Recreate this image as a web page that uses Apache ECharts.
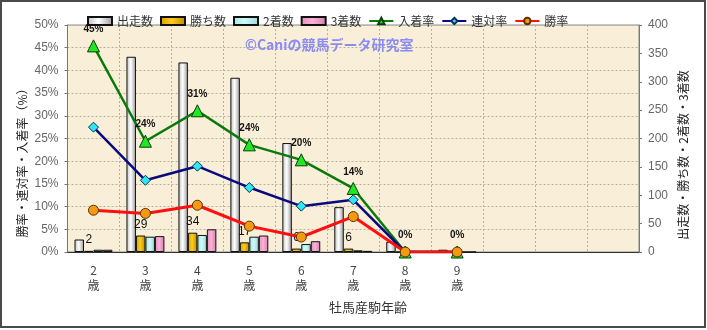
<!DOCTYPE html>
<html>
<head>
<meta charset="utf-8">
<script src="https://cdn.jsdelivr.net/npm/echarts@6/dist/echarts.min.js"></script>
<style>
  html, body { margin: 0; padding: 0; background: #fff; }
  #main { width: 707px; height: 330px; }
</style>
</head>
<body>
<div id="main"></div>
<script>
// Age categories (three trailing empty slots keep the axis width)
const categories = ['2\n歳', '3\n歳', '4\n歳', '5\n歳', '6\n歳', '7\n歳', '8\n歳', '9\n歳', '', '', ''];

// Counts (right axis)
const starts  = [22, 344, 334, 307, 192, 79, 18, 4];
const wins    = [2, 29, 34, 17, 6, 6, 0, 0];
const seconds = [4, 27, 30, 27, 14, 3, 0, 0];
const thirds  = [4, 28, 40, 29, 19, 2, 0, 0];

// Rates in % (left axis)
const placeRate    = [45.4, 24.4, 31.1, 23.6, 20.3, 14.0, 0, 0];
const quinellaRate = [27.5, 15.8, 18.9, 14.2, 10.1, 11.5, 0, 0];
const winRate      = [9.2, 8.5, 10.3, 5.7, 3.3, 7.8, 0, 0];

// Axis ticks
const rateTicks  = { min: 0, max: 50, interval: 5 };
const countTicks = { min: 0, max: 400, interval: 50 };

const FONT = '"Liberation Sans", "Noto Sans CJK JP", sans-serif';
const CJK = '"Noto Sans CJK JP", sans-serif';

function hGrad(stops) {
  return new echarts.graphic.LinearGradient(0, 0, 1, 0,
    stops.map(s => ({ offset: s[0], color: s[1] })));
}

const barBase = {
  type: 'bar',
  yAxisIndex: 1,
  barGap: '0%',
  barCategoryGap: '27%',
  z: 2
};

const chart = echarts.init(document.getElementById('main'), null, { renderer: 'canvas' });

chart.setOption({
  animation: false,
  backgroundColor: '#ffffff',
  textStyle: { fontFamily: FONT },
  grid: {
    left: 67.5, right: 68, top: 25, bottom: 78,
    show: true,
    backgroundColor: '#f9efd9',
    borderColor: '#8a8a8a',
    borderWidth: 1
  },
  legend: {
    left: 82, top: 10,
    itemWidth: 24, itemHeight: 8, itemGap: 7,
    textStyle: { fontFamily: CJK, fontSize: 12, color: '#333' },
    data: [
      { name: '出走数', icon: 'rect' },
      { name: '勝ち数', icon: 'rect' },
      { name: '2着数', icon: 'rect' },
      { name: '3着数', icon: 'rect' },
      '入着率', '連対率', '勝率'
    ]
  },
  xAxis: {
    type: 'category',
    data: categories,
    axisLine: { lineStyle: { color: '#333', width: 1 } },
    axisTick: { show: false },
    axisLabel: {
      interval: 0, margin: 11, color: '#444',
      fontFamily: CJK, fontSize: 12, lineHeight: 15
    },
    splitLine: { show: true, interval: 0, lineStyle: { color: '#b8b0a0', type: [2, 2] } }
  },
  yAxis: [
    {
      type: 'value',
      min: rateTicks.min, max: rateTicks.max, interval: rateTicks.interval,
      axisLine: { show: true, lineStyle: { color: '#777' } },
      axisTick: { show: true, length: 3, lineStyle: { color: '#777' } },
      axisLabel: { formatter: '{value}%', color: '#666', fontSize: 12, margin: 9 },
      splitLine: { show: true, lineStyle: { color: '#b8b0a0', type: [2, 2] } }
    },
    {
      type: 'value',
      min: countTicks.min, max: countTicks.max, interval: countTicks.interval,
      axisLine: { show: true, lineStyle: { color: '#777' } },
      axisTick: { show: true, length: 3, lineStyle: { color: '#777' } },
      axisLabel: { color: '#666', fontSize: 12, margin: 9 },
      splitLine: { show: false }
    }
  ],
  series: [
    Object.assign({}, barBase, {
      name: '出走数', data: starts,
      itemStyle: {
        color: hGrad([[0, '#bdbdbd'], [0.45, '#ffffff'], [1, '#9a9a9a']]),
        borderColor: '#111', borderWidth: 1
      }
    }),
    Object.assign({}, barBase, {
      name: '勝ち数', data: wins,
      itemStyle: {
        color: hGrad([[0, '#d59e00'], [0.45, '#ffcc1a'], [1, '#b98a00']]),
        borderColor: '#111', borderWidth: 1
      },
      label: {
        show: true, position: 'top', distance: 5,
        color: '#111', fontSize: 12, fontFamily: FONT,
        formatter: p => (p.value > 0 ? String(p.value) : '')
      }
    }),
    Object.assign({}, barBase, {
      name: '2着数', data: seconds,
      itemStyle: {
        color: hGrad([[0, '#a6e8ea'], [0.45, '#cff8f8'], [1, '#98dadc']]),
        borderColor: '#111', borderWidth: 1
      }
    }),
    Object.assign({}, barBase, {
      name: '3着数', data: thirds,
      itemStyle: {
        color: hGrad([[0, '#e68cbc'], [0.45, '#f8b4d6'], [1, '#d87cae']]),
        borderColor: '#111', borderWidth: 1
      }
    }),
    {
      name: '入着率', type: 'line', yAxisIndex: 0, data: placeRate, z: 5,
      symbol: 'triangle', symbolSize: 12,
      lineStyle: { color: '#0a7a0a', width: 2.5 },
      itemStyle: { color: '#22e622', borderColor: '#064006', borderWidth: 1 },
      label: {
        show: true, position: 'top', distance: 5,
        color: '#111', fontSize: 10, fontWeight: 'bold', fontFamily: FONT,
        formatter: p => Math.round(p.value) + '%'
      }
    },
    {
      name: '連対率', type: 'line', yAxisIndex: 0, data: quinellaRate, z: 6,
      symbol: 'diamond', symbolSize: 10,
      lineStyle: { color: '#0a0a80', width: 2.5 },
      itemStyle: { color: '#2ee8f0', borderColor: '#06305a', borderWidth: 1 }
    },
    {
      name: '勝率', type: 'line', yAxisIndex: 0, data: winRate, z: 7,
      symbol: 'circle', symbolSize: 10,
      lineStyle: { color: '#ff1010', width: 3 },
      itemStyle: { color: '#f59a10', borderColor: '#5a3000', borderWidth: 1 }
    }
  ],
  graphic: [
    {
      type: 'rect', silent: true, z: 100,
      shape: { x: 1, y: 1, width: 704, height: 326 },
      style: { fill: 'none', stroke: '#4a4a4a', lineWidth: 2 }
    },
    {
      type: 'text', silent: true, z: 50, left: 245, top: 38,
      style: {
        text: '©Caniの競馬データ研究室',
        fill: '#8a8cf2', font: 'bold 14px ' + CJK
      }
    },
    {
      type: 'text', silent: true, z: 50,
      x: 22, y: 160, rotation: Math.PI / 2,
      style: {
        text: '勝率・連対率・入着率（%）',
        fill: '#222', font: '12px ' + CJK,
        align: 'center', verticalAlign: 'middle'
      }
    },
    {
      type: 'text', silent: true, z: 50,
      x: 683, y: 155, rotation: Math.PI / 2,
      style: {
        text: '出走数・勝ち数・2着数・3着数',
        fill: '#222', font: '12px ' + CJK,
        align: 'center', verticalAlign: 'middle'
      }
    },
    {
      type: 'text', silent: true, z: 50,
      x: 368, y: 307,
      style: {
        text: '牡馬産駒年齢',
        fill: '#333', font: '13px ' + CJK,
        align: 'center', verticalAlign: 'middle'
      }
    }
  ]
});
</script>
</body>
</html>
